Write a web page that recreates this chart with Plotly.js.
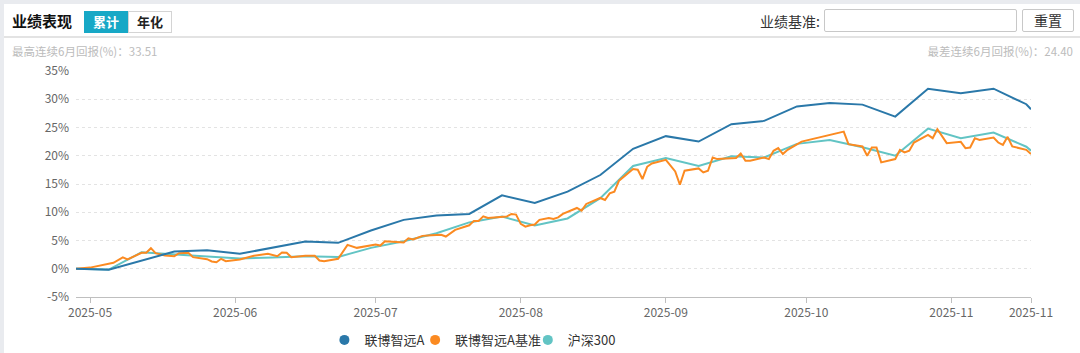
<!DOCTYPE html>
<html><head><meta charset="utf-8">
<script src="https://cdn.plot.ly/plotly-3.0.1.min.js"></script>
<style>
html,body{margin:0;padding:0;width:1080px;height:353px;overflow:hidden;background:#fff;font-family:"Noto Sans CJK SC","Noto Sans",sans-serif;}
#chart{position:absolute;left:0;top:0;width:1080px;height:353px;}
.abs{position:absolute;white-space:nowrap;}
#bandTop{left:0;top:0;width:1080px;height:4px;background:#e9ebef;}
#bandLeft{left:0;top:0;width:4px;height:353px;background:#e9ebef;}
#title{left:12px;top:10px;font-size:15px;font-weight:bold;color:#111;line-height:22px;}
#btnA{left:84px;top:11px;width:44px;height:22px;background:#17a8c6;color:#fff;font-size:13px;font-weight:bold;text-align:center;line-height:22px;}
#btnB{left:128px;top:11px;width:42px;height:20px;border:1px solid #d4d4d4;color:#222;font-size:13px;font-weight:bold;text-align:center;line-height:20px;}
#divider{left:4px;top:36px;width:1076px;height:2px;background:#e3e3e3;}
#subL{left:12px;top:43px;font-size:11.5px;color:#bcbcbc;line-height:16px;}
#subR{right:7px;top:43px;font-size:11.5px;color:#bcbcbc;line-height:16px;}
#lblBench{right:260px;top:10px;font-size:14px;color:#333;line-height:22px;}
#inp{left:824px;top:9px;width:191px;height:21px;border:1px solid #c8c8c8;border-radius:2px;background:#fff;}
#reset{left:1022px;top:9px;width:50px;height:21px;border:1px solid #c8c8c8;border-radius:2px;font-size:14px;color:#333;text-align:center;line-height:21px;background:#fff;}
</style></head>
<body>
<div id="chart"></div>
<div class="abs" id="bandTop"></div>
<div class="abs" id="bandLeft"></div>
<div class="abs" id="title">业绩表现</div>
<div class="abs" id="btnA">累计</div>
<div class="abs" id="btnB">年化</div>
<div class="abs" id="divider"></div>
<div class="abs" id="subL">最高连续6月回报(%)：33.51</div>
<div class="abs" id="subR">最差连续6月回报(%)：24.40</div>
<div class="abs" id="lblBench">业绩基准:</div>
<div class="abs" id="inp"></div>
<div class="abs" id="reset">重置</div>
<script>
// ---- data (cumulative return, %) ----
const seriesNames = ['联博智远A', '联博智远A基准', '沪深300'];

const fundDates = ['2025-04-28','2025-05-05','2025-05-19','2025-05-26','2025-06-02','2025-06-16','2025-06-23','2025-06-30',
  '2025-07-07','2025-07-14','2025-07-21','2025-07-28','2025-08-04','2025-08-11','2025-08-18','2025-08-25',
  '2025-09-01','2025-09-08','2025-09-15','2025-09-22','2025-09-29','2025-10-06','2025-10-13','2025-10-20',
  '2025-10-27','2025-11-03','2025-11-10','2025-11-17','2025-11-18'];
const fundValues = [0,-0.18,3.05,3.28,2.65,4.82,4.59,6.76,
  8.65,9.41,9.71,12.99,11.65,13.64,16.59,21.23,
  23.47,22.52,25.59,26.17,28.73,29.35,29.05,26.93,
  31.87,31.06,31.87,29.12,28.23];

const hs300Dates = ['2025-04-28','2025-05-05','2025-05-12','2025-05-19','2025-05-26','2025-06-02','2025-06-09','2025-06-16',
  '2025-06-23','2025-06-30','2025-07-07','2025-07-14','2025-07-21','2025-07-28','2025-08-04','2025-08-11',
  '2025-08-18','2025-08-25','2025-09-01','2025-09-08','2025-09-15','2025-09-22','2025-09-29','2025-10-06',
  '2025-10-13','2025-10-20','2025-10-27','2025-11-03','2025-11-10','2025-11-17','2025-11-18'];
const hs300Values = [0,-0.15,2.9,2.5,2.1,1.8,2.0,2.2,
  2.1,3.7,4.87,6.28,8.2,9.23,7.64,8.9,
  12.5,18.2,19.6,18.2,19.9,19.7,22.1,22.8,
  21.5,20.0,24.8,23.1,24.1,21.6,20.9];

const benchDates = ['2025-04-28','2025-05-01','2025-05-06','2025-05-08','2025-05-09','2025-05-12','2025-05-13','2025-05-14',
  '2025-05-15','2025-05-17','2025-05-19','2025-05-20','2025-05-22','2025-05-23','2025-05-26','2025-05-27',
  '2025-05-28','2025-05-29','2025-05-30','2025-06-02','2025-06-05','2025-06-08','2025-06-10','2025-06-11',
  '2025-06-12','2025-06-13','2025-06-16','2025-06-18','2025-06-19','2025-06-20','2025-06-23','2025-06-25',
  '2025-06-27','2025-07-01','2025-07-02','2025-07-03','2025-07-07','2025-07-08','2025-07-09','2025-07-11',
  '2025-07-13','2025-07-15','2025-07-16','2025-07-18','2025-07-21','2025-07-22','2025-07-23','2025-07-24',
  '2025-07-25','2025-07-27','2025-07-29','2025-07-30','2025-07-31','2025-08-01','2025-08-02','2025-08-03',
  '2025-08-04','2025-08-05','2025-08-07','2025-08-08','2025-08-09','2025-08-10','2025-08-13','2025-08-14',
  '2025-08-15','2025-08-18','2025-08-19','2025-08-20','2025-08-21','2025-08-22','2025-08-25','2025-08-26',
  '2025-08-27','2025-08-28','2025-08-29','2025-09-01','2025-09-03','2025-09-04','2025-09-05','2025-09-08',
  '2025-09-09','2025-09-10','2025-09-11','2025-09-12','2025-09-16','2025-09-17','2025-09-18','2025-09-19',
  '2025-09-22','2025-09-23','2025-09-24','2025-09-25','2025-09-26','2025-09-27','2025-09-30','2025-10-09',
  '2025-10-10','2025-10-13','2025-10-14','2025-10-15','2025-10-16','2025-10-17','2025-10-20','2025-10-21',
  '2025-10-22','2025-10-23','2025-10-24','2025-10-27','2025-10-28','2025-10-29','2025-10-31','2025-11-03',
  '2025-11-04','2025-11-05','2025-11-06','2025-11-07','2025-11-10','2025-11-11','2025-11-12','2025-11-13',
  '2025-11-14','2025-11-17','2025-11-18'];
const benchValues = [0,0.2,1.06,2.0,1.64,2.82,2.82,3.64,
  2.75,2.35,2.22,2.75,2.82,2.05,1.7,1.29,
  1.16,1.76,1.34,1.64,2.29,2.65,2.22,2.88,
  2.82,2.05,2.29,2.3,1.46,1.34,1.76,4.23,
  3.7,4.29,4.1,4.87,4.64,5.4,5.17,5.82,
  5.93,6.0,5.7,6.88,7.69,8.47,8.47,9.28,
  9.0,9.05,9.23,9.7,9.58,7.94,7.46,7.69,
  7.82,8.65,9.0,8.82,9.1,9.7,10.76,10.29,
  11.47,12.53,12.17,13.34,13.64,15.58,17.64,17.52,
  15.88,18.05,18.64,19.29,17.22,14.87,17.35,17.76,
  17.05,17.35,19.7,19.41,19.59,20.4,19.11,19.11,
  19.7,19.41,20.88,21.35,20.3,21.05,22.5,24.28,
  22.05,21.64,20.0,21.46,21.46,18.82,19.41,21.05,
  20.58,20.88,22.34,23.7,23.11,24.7,22.23,22.46,
  21.35,21.46,23.11,22.81,23.22,22.34,21.93,23.35,
  21.64,21.05,20.29];

const xTickVals = ['2025-05-01','2025-06-01','2025-07-01','2025-08-01','2025-09-01','2025-10-01','2025-11-01','2025-11-18'];
const xTickText = ['2025-05','2025-06','2025-07','2025-08','2025-09','2025-10','2025-11','2025-11'];
const xRange = ['2025-04-28','2025-11-18'];
const yTickVals = [-5,0,5,10,15,20,25,30,35];
const yTickText = yTickVals.map(v => v + '%');

const colors = ['#2a78a9','#fb8a21','#62c4c4'];
const font = '"Noto Sans CJK SC","Noto Sans",sans-serif';

const lineData = [
  {x: fundDates, y: fundValues},
  {x: benchDates, y: benchValues},
  {x: hs300Dates, y: hs300Values}
];
const legendIds = ['legend','legend2','legend3'];
const traces = [];
[2,1,0].forEach(i => {
  traces.push({type:'scatter', mode:'lines', x: lineData[i].x, y: lineData[i].y, name: seriesNames[i],
    line:{color: colors[i], width: 2}, showlegend:false, hoverinfo:'skip'});
});
[0,1,2].forEach(i => {
  traces.push({type:'scatter', mode:'markers', x:[null], y:[null], name: seriesNames[i], legend: legendIds[i],
    marker:{color: colors[i], size: 10, symbol:'circle'}, showlegend:true});
});

// legend placement (paper x of each legend box)
const legendX = [0.2601, 0.3551, 0.4731];
const legendBase = {orientation:'h', xanchor:'left', y:-0.19, yanchor:'middle',
  font:{size:13, color:'#333', family: font}, itemwidth:30, bgcolor:'rgba(0,0,0,0)', borderwidth:0};

const layout = {
  width:1080, height:353,
  margin:{l:76, r:49, t:71, b:56, autoexpand:false},
  paper_bgcolor:'rgba(0,0,0,0)', plot_bgcolor:'rgba(0,0,0,0)',
  font:{family: font, size:12, color:'#666'},
  xaxis:{type:'date', range:xRange, tickmode:'array', tickvals:xTickVals, ticktext:xTickText,
    showgrid:false, zeroline:false, showline:true, linecolor:'#bfbfbf', linewidth:1,
    ticks:'outside', ticklen:5, tickcolor:'#bfbfbf', tickfont:{size:12, color:'#666'}, automargin:false},
  yaxis:{range:[-5,35], tickmode:'array', tickvals:yTickVals, ticktext:yTickText,
    showgrid:true, gridcolor:'#e3e3e3', griddash:'dot', gridwidth:1, zeroline:false, showline:false,
    ticklabelstandoff:6, tickfont:{size:12, color:'#666'}, automargin:false},
  showlegend:true,
  legend: Object.assign({x: legendX[0]}, legendBase),
  legend2: Object.assign({x: legendX[1]}, legendBase),
  legend3: Object.assign({x: legendX[2]}, legendBase)
};
Plotly.newPlot('chart', traces, layout, {displayModeBar:false, staticPlot:true});
</script>
</body></html>
